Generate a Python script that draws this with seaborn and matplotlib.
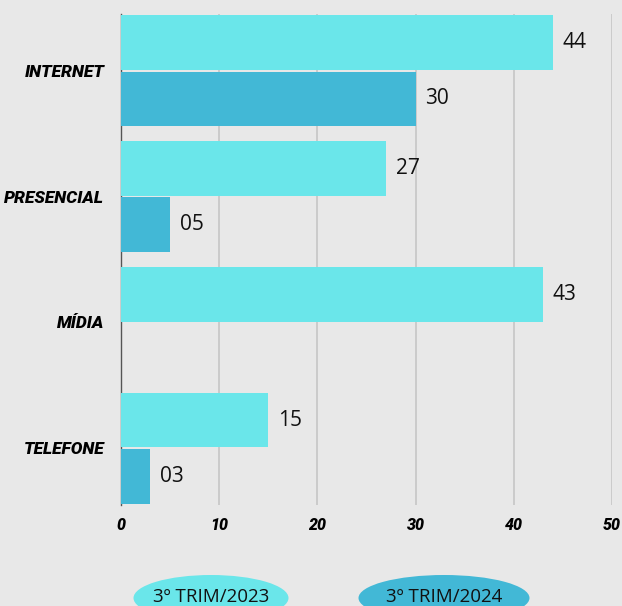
import matplotlib
matplotlib.use('Agg')
import matplotlib.pyplot as plt
from matplotlib.patches import Ellipse
import seaborn as sns
import pandas as pd

# dados
categorias = ['INTERNET', 'PRESENCIAL', 'MÍDIA', 'TELEFONE']
valores_2023 = [44, 27, 43, 15]
valores_2024 = [30, 5, 0, 3]
series = ['3º TRIM/2023', '3º TRIM/2024']
ticks_x = [0, 10, 20, 30, 40, 50]

cores = ['#6ae6ea', '#42b8d6']
fundo = '#e8e8e8'

df = pd.DataFrame({
    'canal': categorias * 2,
    'valor': valores_2023 + valores_2024,
    'periodo': [series[0]] * len(categorias) + [series[1]] * len(categorias),
})

sns.set_style('white')
plt.rcParams['font.family'] = ['Open Sans', 'DejaVu Sans']

fig = plt.figure(figsize=(6.22, 6.06), dpi=100, facecolor=fundo)
ax = fig.add_axes([121 / 622, 101 / 606, 491 / 622, 491 / 606])
ax.set_facecolor(fundo)

sns.barplot(data=df, y='canal', x='valor', hue='periodo', orient='h',
            palette=cores, width=0.9, gap=0.03, saturation=1,
            linewidth=0, edgecolor='none',
            legend=False, ax=ax, zorder=3)

# rótulos de valor
for cont in ax.containers:
    rotulos = [f'{int(b.get_width()):02d}' if b.get_width() > 0 else '' for b in cont]
    ax.bar_label(cont, labels=rotulos, padding=7, fontsize=15, color='#111111')

ax.set_xlim(0, 50)
ax.set_ylim(3.45, -0.45)
ax.set_xticks(ticks_x)
ax.set_xlabel('')
ax.set_ylabel('')
ax.grid(axis='x', color='#c6c6c6', linewidth=1.2, zorder=0)
ax.grid(axis='y', visible=False)
for s in ['top', 'right', 'bottom']:
    ax.spines[s].set_visible(False)
ax.spines['left'].set_color('#555555')
ax.spines['left'].set_linewidth(1.0)
ax.tick_params(axis='both', length=0)
ax.tick_params(axis='y', pad=12)
ax.tick_params(axis='x', pad=9)

for t in ax.get_yticklabels():
    t.set_family(['Roboto', 'DejaVu Sans'])
    t.set_fontweight('black')
    t.set_fontstyle('italic')
    t.set_fontsize(12.5)
    t.set_color('#000000')
for t in ax.get_xticklabels():
    t.set_family(['Roboto', 'DejaVu Sans'])
    t.set_fontweight('black')
    t.set_fontstyle('italic')
    t.set_fontsize(11.5)
    t.set_color('#000000')

# legenda em elipses
for i, (nome, cor) in enumerate(zip(series, cores)):
    cx = [211, 444][i]
    w = [155, 171][i]
    e = Ellipse((cx / 622, 1 - 598 / 606), w / 622, 46 / 606,
                transform=fig.transFigure, facecolor=cor, edgecolor='none')
    fig.patches.append(e)
    fig.text(cx / 622, 1 - 597 / 606, nome, ha='center', va='center',
             fontsize=13.5, color='#111111')

plt.savefig('out.png', dpi=100, facecolor=fundo)
plt.close()
